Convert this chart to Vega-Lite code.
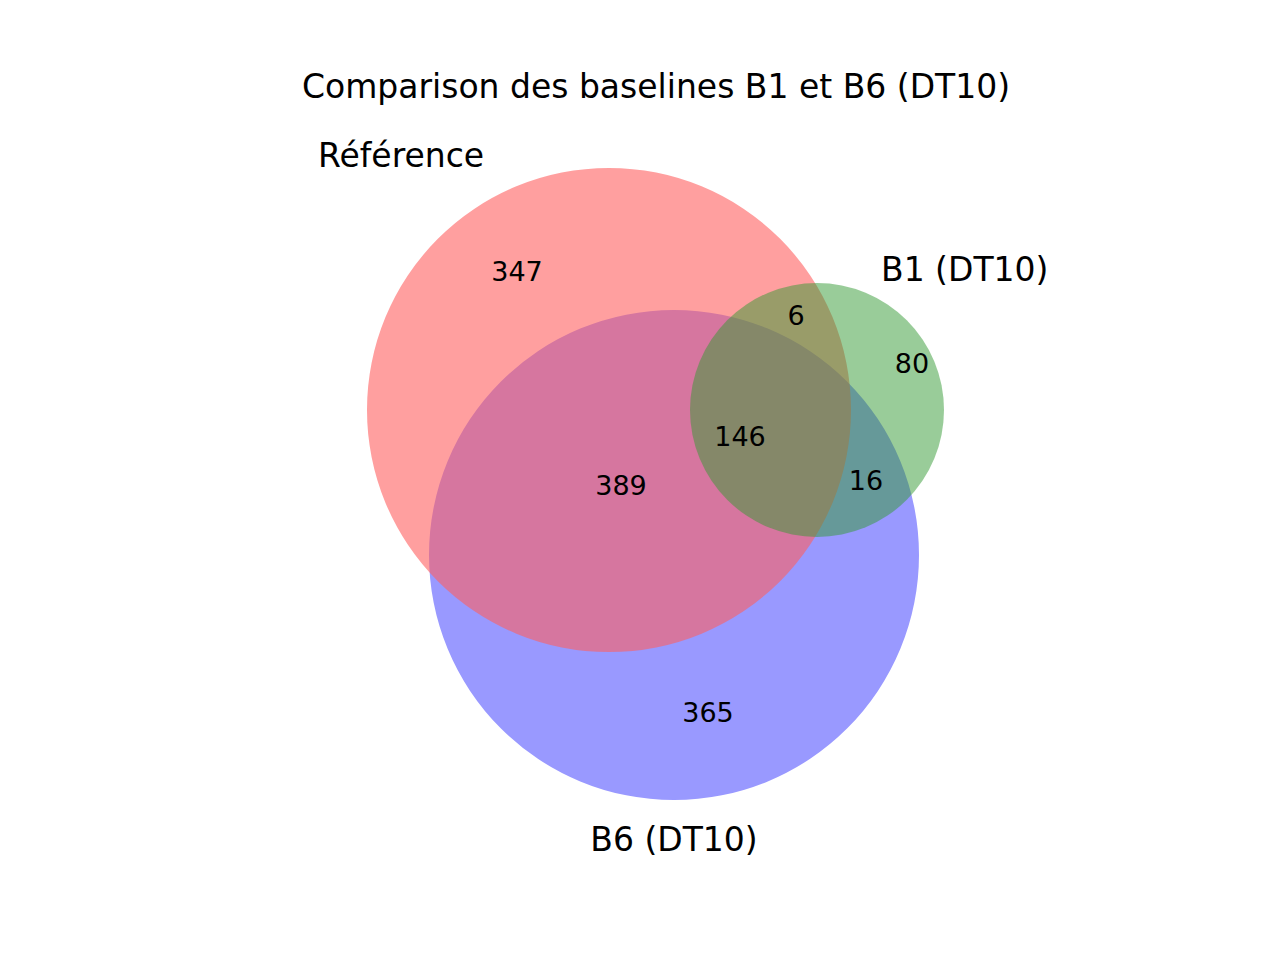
{
  "$schema": "https://vega.github.io/schema/vega-lite/v6.json",
  "width": 1280,
  "height": 960,
  "padding": 0,
  "autosize": {"type": "none"},
  "background": "white",
  "config": {"view": {"stroke": null}, "font": "DejaVu Sans"},
  "datasets": {
    "sets": [
      {"set": "B6 (DT10)", "cx": 674, "cy": 555, "r": 245, "order": 1},
      {"set": "Référence", "cx": 609, "cy": 410, "r": 242, "order": 2},
      {"set": "B1 (DT10)", "cx": 817, "cy": 410, "r": 127, "order": 3}
    ],
    "counts": [
      {"region": "Ref only", "n": "347", "x": 517, "y": 273},
      {"region": "Ref & B1", "n": "6", "x": 796, "y": 317},
      {"region": "B1 only", "n": "80", "x": 912, "y": 365},
      {"region": "all", "n": "146", "x": 740, "y": 438},
      {"region": "Ref & B6", "n": "389", "x": 621, "y": 487},
      {"region": "B1 & B6", "n": "16", "x": 866, "y": 482},
      {"region": "B6 only", "n": "365", "x": 708, "y": 714}
    ],
    "labels": [
      {"text": "Référence", "x": 318, "y": 157, "align": "left"},
      {"text": "B1 (DT10)", "x": 881, "y": 271, "align": "left"},
      {"text": "B6 (DT10)", "x": 674, "y": 841, "align": "center"},
      {"text": "Comparison des baselines B1 et B6 (DT10)", "x": 656, "y": 88, "align": "center"}
    ]
  },
  "data": {"name": "sets"},
  "layer": [
    {
      "data": {"name": "sets"},
      "transform": [{"filter": "datum.order == 1"}],
      "mark": {"type": "point", "shape": "circle", "filled": true, "opacity": 1, "color": "#9999ff", "strokeWidth": 0},
      "encoding": {
        "x": {"field": "cx", "type": "quantitative", "scale": {"domain": [0, 1280]}, "axis": null},
        "y": {"field": "cy", "type": "quantitative", "scale": {"domain": [0, 960], "reverse": true}, "axis": null},
        "size": {"field": "r", "type": "quantitative", "scale": {"type": "pow", "exponent": 2, "domain": [0, 100], "range": [0, 40000], "zero": true}, "legend": null}
      }
    },
    {
      "data": {"name": "sets"},
      "transform": [{"filter": "datum.order == 2"}],
      "mark": {"type": "point", "shape": "circle", "filled": true, "opacity": 0.6, "color": "#ff5f5f", "strokeWidth": 0},
      "encoding": {
        "x": {"field": "cx", "type": "quantitative", "scale": {"domain": [0, 1280]}, "axis": null},
        "y": {"field": "cy", "type": "quantitative", "scale": {"domain": [0, 960], "reverse": true}, "axis": null},
        "size": {"field": "r", "type": "quantitative", "scale": {"type": "pow", "exponent": 2, "domain": [0, 100], "range": [0, 40000], "zero": true}, "legend": null}
      }
    },
    {
      "data": {"name": "sets"},
      "transform": [{"filter": "datum.order == 3"}],
      "mark": {"type": "point", "shape": "circle", "filled": true, "opacity": 0.5, "color": "#339933", "strokeWidth": 0},
      "encoding": {
        "x": {"field": "cx", "type": "quantitative", "scale": {"domain": [0, 1280]}, "axis": null},
        "y": {"field": "cy", "type": "quantitative", "scale": {"domain": [0, 960], "reverse": true}, "axis": null},
        "size": {"field": "r", "type": "quantitative", "scale": {"type": "pow", "exponent": 2, "domain": [0, 100], "range": [0, 40000], "zero": true}, "legend": null}
      }
    },
    {
      "data": {"name": "counts"},
      "mark": {"type": "text", "fontSize": 27, "color": "black", "align": "center", "baseline": "middle"},
      "encoding": {
        "x": {"field": "x", "type": "quantitative", "scale": {"domain": [0, 1280]}, "axis": null},
        "y": {"field": "y", "type": "quantitative", "scale": {"domain": [0, 960], "reverse": true}, "axis": null},
        "text": {"field": "n"}
      }
    },
    {
      "data": {"name": "labels"},
      "transform": [{"filter": "datum.align == 'left'"}],
      "mark": {"type": "text", "fontSize": 33, "color": "black", "align": "left", "baseline": "middle"},
      "encoding": {
        "x": {"field": "x", "type": "quantitative", "scale": {"domain": [0, 1280]}, "axis": null},
        "y": {"field": "y", "type": "quantitative", "scale": {"domain": [0, 960], "reverse": true}, "axis": null},
        "text": {"field": "text"}
      }
    },
    {
      "data": {"name": "labels"},
      "transform": [{"filter": "datum.align == 'center'"}],
      "mark": {"type": "text", "fontSize": 33, "color": "black", "align": "center", "baseline": "middle"},
      "encoding": {
        "x": {"field": "x", "type": "quantitative", "scale": {"domain": [0, 1280]}, "axis": null},
        "y": {"field": "y", "type": "quantitative", "scale": {"domain": [0, 960], "reverse": true}, "axis": null},
        "text": {"field": "text"}
      }
    }
  ]
}
